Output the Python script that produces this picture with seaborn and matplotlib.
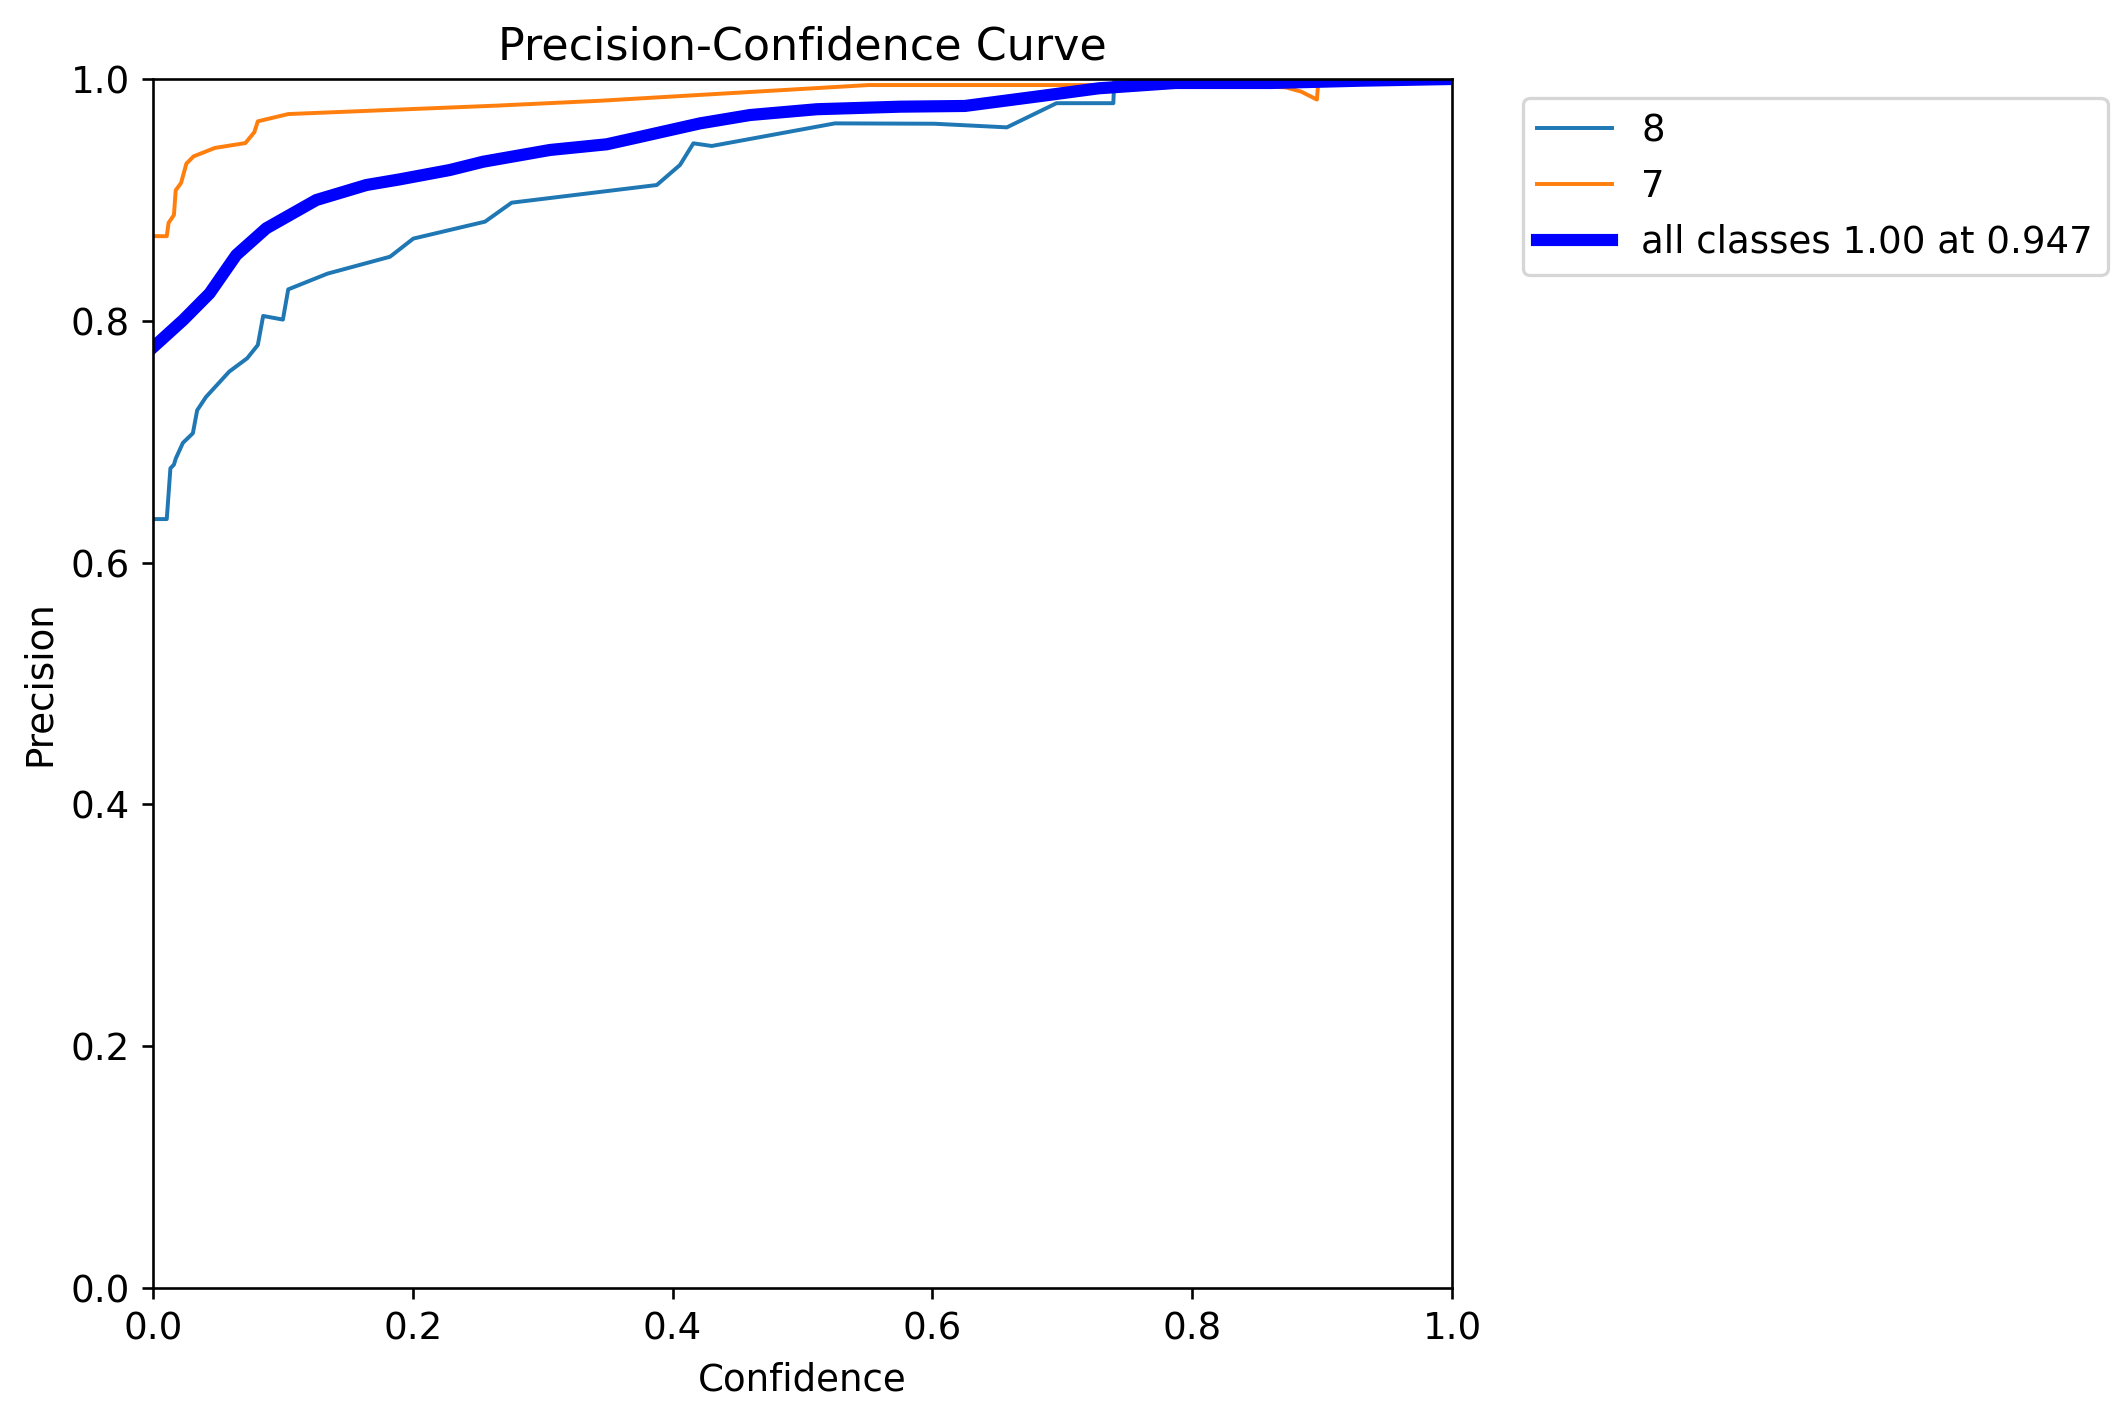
import matplotlib
matplotlib.use("Agg")
import matplotlib.pyplot as plt
import seaborn as sns
import numpy as np

# ---- data ----
conf_8 = [0.0, 0.0106, 0.0134, 0.0161, 0.0175, 0.0230, 0.0307, 0.0340, 0.0408, 0.0587,
          0.0725, 0.0807, 0.0848, 0.1000, 0.1041, 0.1343, 0.1825, 0.2004, 0.2556, 0.2761,
          0.3878, 0.4057, 0.4160, 0.4301, 0.525, 0.6014, 0.6573, 0.6956, 0.7393, 0.7400,
          0.80, 1.0]
prec_8 = [0.636, 0.636, 0.678, 0.681, 0.686, 0.699, 0.707, 0.726, 0.737, 0.758,
          0.769, 0.780, 0.804, 0.801, 0.826, 0.839, 0.853, 0.868, 0.882, 0.8977,
          0.9123, 0.9289, 0.9468, 0.9446, 0.9633, 0.963, 0.960, 0.980, 0.980, 1.0,
          1.0, 1.0]

conf_7 = [0.0, 0.0106, 0.0120, 0.0161, 0.0175, 0.0216, 0.0257, 0.0312, 0.0477, 0.0711,
          0.0780, 0.0807, 0.1041, 0.265, 0.344, 0.551, 0.728, 0.77, 0.8724, 0.884,
          0.896, 0.897, 0.95, 1.0]
prec_7 = [0.870, 0.870, 0.881, 0.8875, 0.908, 0.914, 0.930, 0.936, 0.943, 0.947,
          0.956, 0.965, 0.971, 0.978, 0.982, 0.995, 0.995, 0.9995, 0.993, 0.9895,
          0.983, 0.996, 1.0, 1.0]

conf_all = [0.0, 0.0233, 0.0436, 0.0641, 0.0872, 0.1257, 0.1642, 0.190, 0.2284, 0.2543,
            0.3056, 0.3493, 0.3698, 0.4211, 0.4596, 0.511, 0.5751, 0.625, 0.684, 0.728,
            0.787, 0.861, 0.93, 1.0]
prec_all = [0.778, 0.8007, 0.8227, 0.8544, 0.8765, 0.8999, 0.9123, 0.917, 0.9247, 0.9316,
            0.9413, 0.946, 0.9509, 0.9633, 0.9702, 0.975, 0.9771, 0.9777, 0.986, 0.9923,
            0.9967, 0.9967, 0.9986, 1.0]

series_labels = ["8", "7", "all classes 1.00 at 0.947"]
title_text = "Precision-Confidence Curve"
xlabel_text = "Confidence"
ylabel_text = "Precision"

# ---- figure ----
plt.rcParams["font.family"] = ["DejaVu Sans"]
plt.rcParams["font.size"] = 11.3
W, H = 2128, 1409
dpi = 236.4
fig = plt.figure(figsize=(W / dpi, H / dpi), dpi=dpi)
ax = fig.add_axes([153 / W, 1 - 1288 / H, 1299 / W, 1209 / H])

sns.lineplot(x=conf_8, y=prec_8, ax=ax, color="#1f77b4", linewidth=1.2,
             label=series_labels[0], estimator=None, sort=False)
sns.lineplot(x=conf_7, y=prec_7, ax=ax, color="#ff7f0e", linewidth=1.2,
             label=series_labels[1], estimator=None, sort=False)
sns.lineplot(x=conf_all, y=prec_all, ax=ax, color="blue", linewidth=3.7,
             label=series_labels[2], estimator=None, sort=False)

ax.set_xlim(0, 1)
ax.set_ylim(0, 1)
ax.set_xlabel(xlabel_text)
ax.set_ylabel(ylabel_text)
ax.set_title(title_text, fontsize=13.5)
ax.legend(bbox_to_anchor=(1.04, 1), loc="upper left")

fig.savefig("out.png", dpi=dpi)
